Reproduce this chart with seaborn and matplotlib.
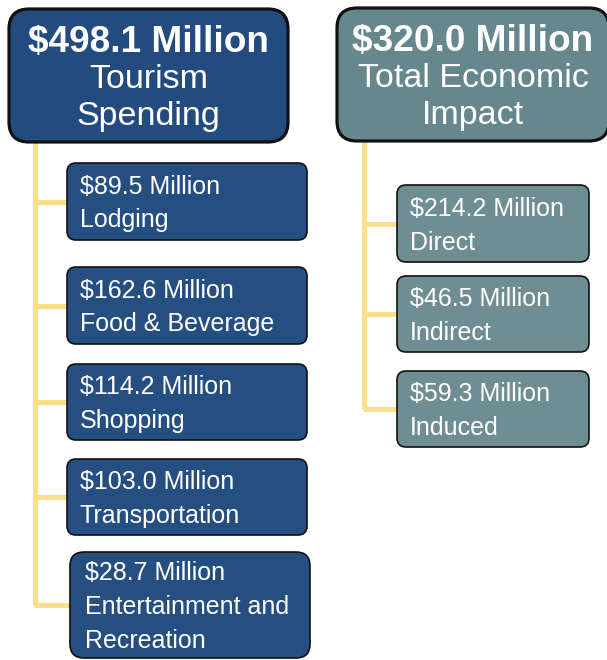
import matplotlib
matplotlib.use("Agg")
import matplotlib.pyplot as plt
from matplotlib.patches import FancyBboxPatch
import seaborn as sns

# Data
head_values = ["$498.1 Million", "$320.0 Million"]
head_labels = ["Tourism\nSpending", "Total Economic\nImpact"]
spend_values = ["$89.5 Million", "$162.6 Million", "$114.2 Million", "$103.0 Million", "$28.7 Million"]
spend_labels = ["Lodging", "Food & Beverage", "Shopping", "Transportation", "Entertainment and\nRecreation"]
impact_values = ["$214.2 Million", "$46.5 Million", "$59.3 Million"]
impact_labels = ["Direct", "Indirect", "Induced"]

# Layout (pixel units, y downwards)
W, H = 607, 660
head_boxes = [(9, 9, 279, 133), (337, 8, 272, 133)]
spend_boxes = [(67, 163, 240, 77), (67, 267, 240, 77), (67, 364, 240, 76),
               (67, 459, 240, 76), (70, 552, 240, 106)]
impact_boxes = [(397, 185, 192, 77), (397, 276, 192, 76), (397, 371, 192, 76)]
trunk_x = [35, 364]

blue = "#234b7f"
blue_child = "#254e81"
teal = "#66878d"
teal_child = "#6f8e93"
yellow = "#fbe08c"

sns.set_theme(style="white")
plt.rcParams['font.family'] = ['Liberation Sans', 'DejaVu Sans']

fig = plt.figure(figsize=(W / 100, H / 100), dpi=100)
ax = fig.add_axes([0, 0, 1, 1])
ax.set_xlim(0, W)
ax.set_ylim(H, 0)
ax.axis('off')


def box(x, y, w, h, color, lw, r):
    ax.add_patch(FancyBboxPatch((x, y), w, h, boxstyle=f"round,pad=0,rounding_size={r}",
                                facecolor=color, edgecolor="#111111", linewidth=lw, zorder=3))


def lines_text(lines, x, cy, sizes, gap, ha, weights):
    n = len(lines)
    for i, (txt, sz, wt) in enumerate(zip(lines, sizes, weights)):
        c = cy + (i - (n - 1) / 2) * gap
        ax.text(x, c + 0.36 * sz, txt, ha=ha, va='baseline', color='white',
                fontsize=sz * 0.72, fontweight=wt, zorder=4)


def branch(tx, top, boxes):
    mids = [b[1] + b[3] / 2 for b in boxes]
    ax.plot([tx, tx], [top, mids[-1]], color=yellow, lw=3.6, solid_capstyle='butt', zorder=1)
    for b, m in zip(boxes, mids):
        ax.plot([tx - 1.5, b[0]], [m, m], color=yellow, lw=3.6, solid_capstyle='butt', zorder=1)


branch(trunk_x[0], head_boxes[0][1] + head_boxes[0][3], spend_boxes)
branch(trunk_x[1], head_boxes[1][1] + head_boxes[1][3], impact_boxes)

for (x, y, w, h), val, lab, col in zip(head_boxes, head_values, head_labels, [blue, teal]):
    box(x, y, w, h, col, 2.3, 20)
    parts = [val] + lab.split("\n")
    lines_text(parts, x + w / 2, y + h / 2, [37, 34, 34], 37, 'center', ['bold', 'normal', 'normal'])

for i, ((x, y, w, h), val, lab) in enumerate(zip(spend_boxes, spend_values, spend_labels)):
    box(x, y, w, h, blue_child, 1.2, 9 if i < 4 else 14)
    parts = [val] + lab.split("\n")
    lines_text(parts, x + 13 + (2 if i == 4 else 0), y + h / 2, [25] * len(parts), 34, 'left',
               ['normal'] * len(parts))

for (x, y, w, h), val, lab in zip(impact_boxes, impact_values, impact_labels):
    box(x, y, w, h, teal_child, 1.2, 9)
    parts = [val] + lab.split("\n")
    lines_text(parts, x + 13, y + h / 2, [25] * len(parts), 34, 'left', ['normal'] * len(parts))

fig.savefig("out.png", dpi=100, facecolor="white")
